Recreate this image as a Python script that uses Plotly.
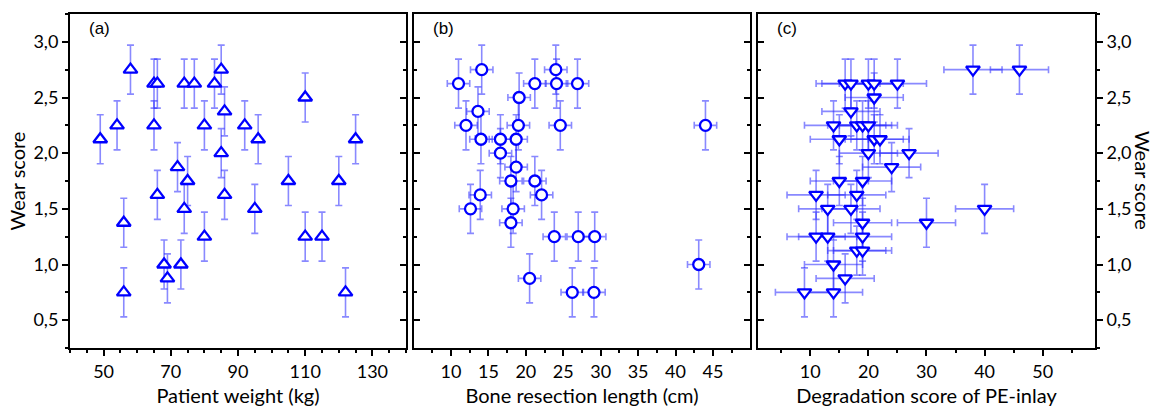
import plotly.graph_objects as go

# (a) wear score vs patient weight
weight_kg = [49, 54, 58, 65, 66, 65, 74, 77, 83, 85, 86, 80, 85, 92, 96, 110, 125,
             72, 75, 66, 86, 105, 120, 56, 74, 80, 95, 110, 115, 68, 69, 73, 56, 122]
wear_a = [2.125, 2.25, 2.75, 2.625, 2.625, 2.25, 2.625, 2.625, 2.625, 2.75, 2.375, 2.25, 2.0, 2.25, 2.125, 2.5, 2.125,
          1.875, 1.75, 1.625, 1.625, 1.75, 1.75, 1.375, 1.5, 1.25, 1.5, 1.25, 1.25, 1.0, 0.875, 1.0, 0.75, 0.75]

# (b) wear score vs bone resection length
resection_cm = [11.0, 14.1, 13.6, 12.0, 14.0, 16.6, 16.6, 18.7, 19.1, 19.0, 18.7, 18.0, 21.2, 21.2,
                24.0, 24.1, 26.9, 24.6, 44.0, 13.9, 22.1, 12.6, 18.3, 18.0, 23.8, 27.0, 29.2,
                20.5, 26.2, 29.1, 43.1]
wear_b = [2.625, 2.75, 2.375, 2.25, 2.125, 2.125, 2.0, 2.125, 2.5, 2.25, 1.875, 1.75, 1.75, 2.625,
          2.75, 2.625, 2.625, 2.25, 2.25, 1.625, 1.625, 1.5, 1.5, 1.375, 1.25, 1.25, 1.25,
          0.875, 0.75, 0.75, 1.0]

# (c) wear score vs degradation score of PE-inlay
degradation = [38, 46, 16, 17, 20, 21, 25, 21, 17, 14, 18, 19, 20, 15, 21, 22, 20, 27, 24, 15, 19, 11, 18,
               13, 17, 19, 30, 40, 11, 13, 19, 18, 19, 14, 16, 9, 14]
wear_c = [2.75, 2.75, 2.625, 2.625, 2.625, 2.625, 2.625, 2.5, 2.375, 2.25, 2.25, 2.25, 2.25, 2.125, 2.125,
          2.125, 2.0, 2.0, 1.875, 1.75, 1.75, 1.625, 1.625,
          1.5, 1.5, 1.375, 1.375, 1.5, 1.25, 1.25, 1.25, 1.125, 1.125, 1.0, 0.875, 0.75, 0.75]

wear_err = 0.22
resection_err = 1.5
degradation_err = 5

blue = "#0000ff"
bar_col = "rgba(40,40,255,0.55)"
font = "Lato"

fig = go.Figure()


def err(v):
    return dict(type="constant", value=v, color=bar_col, thickness=1.6, width=3.5)


fig.add_trace(go.Scatter(x=weight_kg, y=wear_a, mode="markers", xaxis="x", yaxis="y",
                         marker=dict(symbol="triangle-up", size=12, color="white",
                                     line=dict(color=blue, width=2.3)),
                         error_y=err(wear_err), showlegend=False))
fig.add_trace(go.Scatter(x=resection_cm, y=wear_b, mode="markers", xaxis="x2", yaxis="y2",
                         marker=dict(symbol="circle", size=11, color="white",
                                     line=dict(color=blue, width=2.3)),
                         error_y=err(wear_err), error_x=err(resection_err), showlegend=False))
fig.add_trace(go.Scatter(x=degradation, y=wear_c, mode="markers", xaxis="x3", yaxis="y3",
                         marker=dict(symbol="triangle-down", size=12, color="white",
                                     line=dict(color=blue, width=2.3)),
                         error_y=err(wear_err), error_x=err(degradation_err), showlegend=False))

# invisible copies so the right-hand overlay axes get drawn
fig.add_trace(go.Scatter(x=weight_kg, y=wear_a, mode="markers", xaxis="x", yaxis="y4",
                         marker=dict(opacity=0), hoverinfo="skip", showlegend=False))
fig.add_trace(go.Scatter(x=degradation, y=wear_c, mode="markers", xaxis="x3", yaxis="y5",
                         marker=dict(opacity=0), hoverinfo="skip", showlegend=False))

tickfont = dict(family=font, size=18, color="black")
titlefont = dict(family=font, size=20, color="black")

common_x = dict(showline=True, linewidth=2, linecolor="black", mirror=True, ticks="outside",
                ticklen=6, tickwidth=1.5, tickcolor="black", showgrid=False, zeroline=False,
                tickfont=tickfont, automargin=False,
                minor=dict(ticks="outside", ticklen=3, tickwidth=1.5, tickcolor="black", showgrid=False))
common_y = dict(range=[0.25, 3.25], tick0=0.5, dtick=0.5, tickformat=".1f", showgrid=False,
                zeroline=False, showline=True, linewidth=2, linecolor="black", automargin=False,
                ticklen=6, tickwidth=1.5, tickcolor="black", tickfont=tickfont)

d_a = [0, 0.3278]
d_b = [0.3356, 0.6634]
d_c = [0.6712, 1]

fig.update_layout(
    width=1156, height=407,
    margin=dict(l=70, r=61, t=14, b=59, autoexpand=False),
    paper_bgcolor="white", plot_bgcolor="white",
    separators=", ",
    xaxis=dict(common_x, domain=d_a, anchor="y", range=[40, 140], tick0=50, dtick=20,
               minor=dict(common_x["minor"], dtick=5),
               title=dict(text="Patient weight (kg)", font=titlefont, standoff=19)),
    xaxis2=dict(common_x, domain=d_b, anchor="y2", range=[5.05, 49.95], tick0=0, dtick=5,
                minor=dict(common_x["minor"], dtick=2.5),
                title=dict(text="Bone resection length (cm)", font=titlefont, standoff=19)),
    xaxis3=dict(common_x, domain=d_c, anchor="y3", range=[1, 59], tick0=0, dtick=10,
                minor=dict(common_x["minor"], dtick=5),
                title=dict(text="Degradation score of PE-inlay", font=titlefont, standoff=19)),
    yaxis=dict(common_y, anchor="x", side="left", ticks="outside", mirror=True,
               minor=dict(ticks="outside", dtick=0.25, ticklen=3, tickwidth=1.5, tickcolor="black"),
               title=dict(text="Wear score", font=titlefont, standoff=2)),
    yaxis4=dict(common_y, anchor="x", overlaying="y", side="right", ticks="inside",
                showticklabels=False,
                minor=dict(ticks="inside", dtick=0.25, ticklen=3, tickwidth=1.5, tickcolor="black")),
    yaxis2=dict(common_y, anchor="x2", ticks="inside", mirror="ticks", showticklabels=False,
                minor=dict(ticks="inside", dtick=0.25, ticklen=3, tickwidth=1.5, tickcolor="black")),
    yaxis3=dict(common_y, anchor="x3", side="left", ticks="inside", mirror=True, showticklabels=False,
                minor=dict(ticks="inside", dtick=0.25, ticklen=3, tickwidth=1.5, tickcolor="black")),
    yaxis5=dict(common_y, anchor="x3", overlaying="y3", side="right", ticks="outside",
                minor=dict(ticks="outside", dtick=0.25, ticklen=3, tickwidth=1.5, tickcolor="black")),
)

# right-hand axis title reads top-to-bottom
fig.add_annotation(text="Wear score", xref="paper", yref="paper", x=1.0468, y=0.5,
                   textangle=90, showarrow=False, xanchor="center", yanchor="middle",
                   font=titlefont)

for lbl, dom in [("(a)", d_a), ("(b)", d_b), ("(c)", d_c)]:
    fig.add_annotation(text=lbl, xref="paper", yref="paper", x=dom[0] + 0.017, y=0.99,
                       xanchor="left", yanchor="top", showarrow=False,
                       font=dict(family="Liberation Sans", size=17, color="black"))

# drop the default 8px page margin so the figure fills the window
fig.write_html("out.html", config={"displayModeBar": False},
               post_script="document.body.style.margin='0';")
